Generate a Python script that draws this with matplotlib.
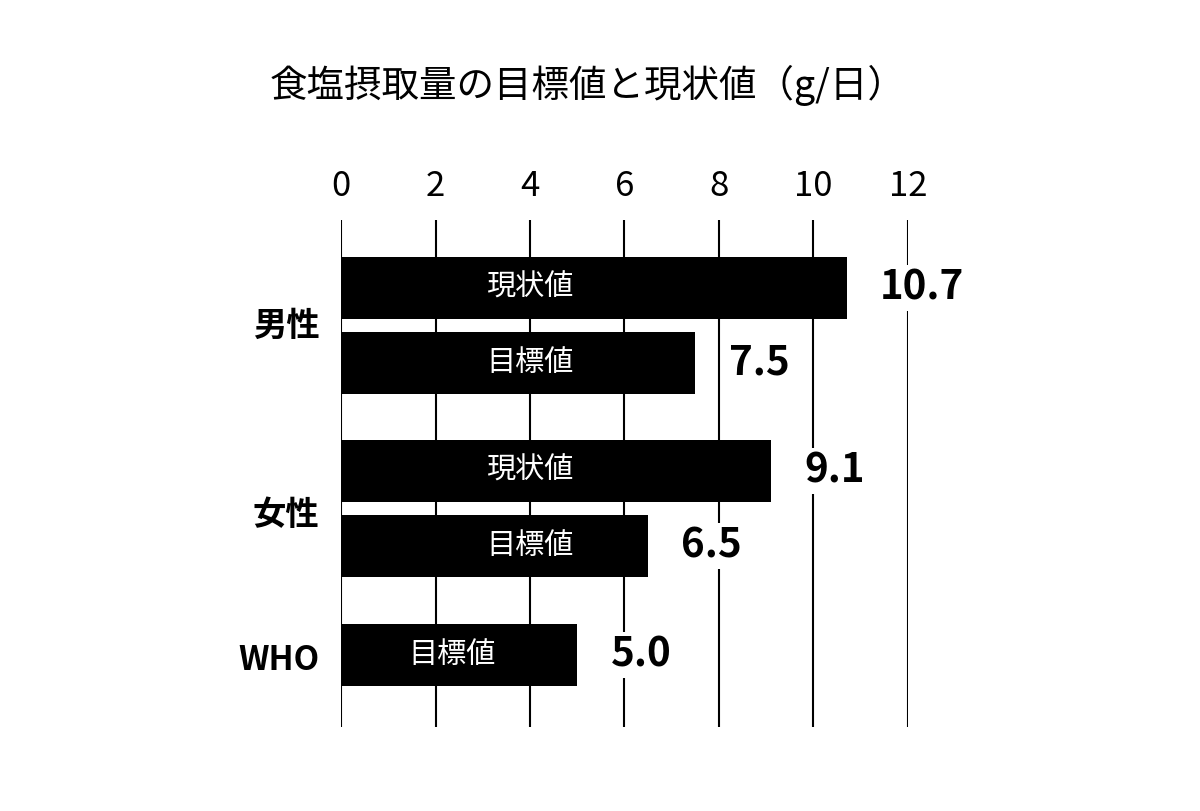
import matplotlib
matplotlib.use("Agg")
import matplotlib.pyplot as plt

plt.rcParams['font.family'] = ['Noto Sans CJK JP', 'DejaVu Sans']

groups = ["男性", "女性", "WHO"]
bar_labels = ["現状値", "目標値", "現状値", "目標値", "目標値"]
values = [10.7, 7.5, 9.1, 6.5, 5.0]
xticks = [0, 2, 4, 6, 8, 10, 12]
title = "食塩摂取量の目標値と現状値（g/日）"

# layout (pixel-space y positions)
centers = [288, 363, 471, 546, 655]
group_y = [326, 516, 661]
label_x = [4.0, 4.0, 4.0, 4.0, 2.35]

fig = plt.figure(figsize=(12, 8.11), dpi=100)
ax = fig.add_axes([341/1200, 1-727/811, (908-341)/1200, 507/811])
ax.set_xlim(0, 12)
ax.set_ylim(727, 220)
for t in xticks:
    ax.axvline(t, color='black', lw=1.5, zorder=0)
ax.barh(centers, values, height=62, color='black', zorder=2)
for c, v, lab, lx in zip(centers, values, bar_labels, label_x):
    ax.text(lx, c, lab, color='white', ha='center', va='center', fontsize=21, zorder=3)
    ax.annotate(f"{v:.1f}", (v, c), xytext=(24, 0), textcoords='offset points',
                ha='left', va='center', fontsize=29, fontweight='bold', zorder=4,
                bbox=dict(facecolor='white', edgecolor='none', pad=2))
for g, gy in zip(groups, group_y):
    ax.text(-0.45, gy, g, ha='right', va='center', fontsize=24, fontweight='bold')
for t in xticks:
    ax.text(t, 186, str(t), ha='center', va='center', fontsize=25)
for s in ax.spines.values():
    s.set_visible(False)
ax.set_xticks([]); ax.set_yticks([])
fig.text(0.49, 1-85/811, title, ha='center', va='center', fontsize=27)
fig.savefig("out.png")
